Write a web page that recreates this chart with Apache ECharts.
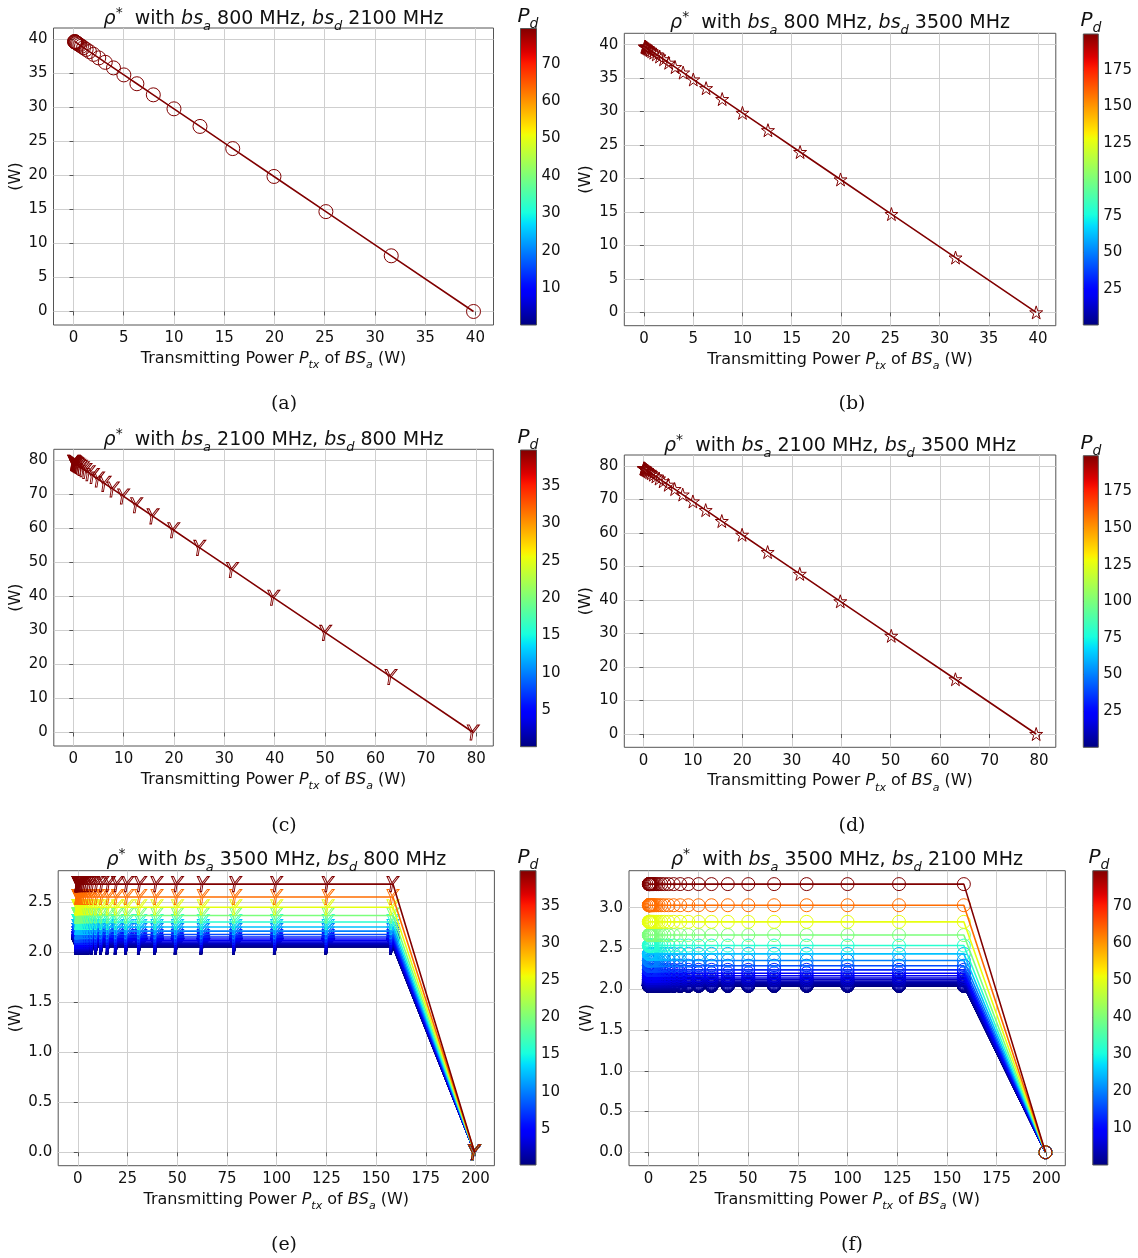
<!DOCTYPE html>
<html>
<head>
<meta charset="utf-8">
<script src="https://cdn.jsdelivr.net/npm/echarts@6/dist/echarts.min.js"></script>
<style>
  html, body { margin: 0; padding: 0; background: #fff; }
  #chart { width: 1138px; height: 1258px; }
</style>
</head>
<body>
<div id="chart"></div>
<script>
// ---- data -----------------------------------------------------------------
// Transmitting power P_tx of BS_a (W), sampled in 1 dB steps
const PTX_40 = [0.1, 0.126, 0.158, 0.2, 0.251, 0.316, 0.398, 0.501, 0.631, 0.794,
  1.0, 1.259, 1.585, 1.995, 2.512, 3.162, 3.981, 5.012, 6.31, 7.943,
  10.0, 12.589, 15.849, 19.953, 25.119, 31.623, 39.811];
const RHO_40 = [39.71, 39.69, 39.65, 39.61, 39.56, 39.5, 39.41, 39.31, 39.18, 39.02,
  38.81, 38.55, 38.23, 37.82, 37.3, 36.65, 35.83, 34.8, 33.5, 31.87,
  29.81, 27.22, 23.96, 19.86, 14.69, 8.19, 0];

const PTX_80 = [0.1, 0.126, 0.158, 0.2, 0.251, 0.316, 0.398, 0.501, 0.631, 0.794,
  1.0, 1.259, 1.585, 1.995, 2.512, 3.162, 3.981, 5.012, 6.31, 7.943,
  10.0, 12.589, 15.849, 19.953, 25.119, 31.623, 39.811, 50.119, 63.096, 79.433];
const RHO_80 = [79.33, 79.31, 79.28, 79.23, 79.18, 79.12, 79.04, 78.93, 78.8, 78.64,
  78.43, 78.17, 77.85, 77.44, 76.92, 76.27, 75.45, 74.42, 73.12, 71.49,
  69.43, 66.84, 63.58, 59.48, 54.31, 47.81, 39.62, 29.31, 16.34, 0];

// 3500 MHz BS_a: flat part of every curve, then the drop to the last sample
const PTX_200 = [0.1, 0.126, 0.158, 0.2, 0.251, 0.316, 0.398, 0.501, 0.631, 0.794,
  1.0, 1.259, 1.585, 1.995, 2.512, 3.162, 3.981, 5.012, 6.31, 7.943,
  10.0, 12.589, 15.849, 19.953, 25.119, 31.623, 39.811, 50.119, 63.096, 79.433,
  100.0, 125.893, 158.489];
const PTX_END = 199.526;
const RHO_END = 0;

// P_d values of the donor BS (colour scale)
const PD_40 = [0.1, 0.126, 0.158, 0.2, 0.251, 0.316, 0.398, 0.501, 0.631, 0.794,
  1.0, 1.259, 1.585, 1.995, 2.512, 3.162, 3.981, 5.012, 6.31, 7.943,
  10.0, 12.589, 15.849, 19.953, 25.119, 31.623, 39.811];
const PD_80 = [0.1, 0.126, 0.158, 0.2, 0.251, 0.316, 0.398, 0.501, 0.631, 0.794,
  1.0, 1.259, 1.585, 1.995, 2.512, 3.162, 3.981, 5.012, 6.31, 7.943,
  10.0, 12.589, 15.849, 19.953, 25.119, 31.623, 39.811, 50.119, 63.096, 79.433];
const PD_200 = [0.1, 0.126, 0.158, 0.2, 0.251, 0.316, 0.398, 0.501, 0.631, 0.794,
  1.0, 1.259, 1.585, 1.995, 2.512, 3.162, 3.981, 5.012, 6.31, 7.943,
  10.0, 12.589, 15.849, 19.953, 25.119, 31.623, 39.811, 50.119, 63.096, 79.433,
  100.0, 125.893, 158.489, 199.526];

// plateau level of rho* for each P_d
const LEVEL_E = [2.057, 2.057, 2.058, 2.058, 2.059, 2.06, 2.061, 2.063, 2.065, 2.068,
  2.071, 2.075, 2.08, 2.087, 2.095, 2.105, 2.118, 2.134, 2.155, 2.18,
  2.213, 2.254, 2.305, 2.37, 2.452, 2.555, 2.684];
const LEVEL_F = [2.042, 2.042, 2.043, 2.043, 2.044, 2.045, 2.046, 2.048, 2.05, 2.052,
  2.056, 2.06, 2.065, 2.071, 2.079, 2.09, 2.102, 2.119, 2.139, 2.165,
  2.197, 2.238, 2.289, 2.353, 2.434, 2.536, 2.665, 2.827, 3.031, 3.29];

// tick labels
const TICKS_40 = [0, 5, 10, 15, 20, 25, 30, 35, 40];
const TICKS_80 = [0, 10, 20, 30, 40, 50, 60, 70, 80];
const TICKS_200 = [0, 25, 50, 75, 100, 125, 150, 175, 200];
const TICKS_Y_E = [0, 0.5, 1.0, 1.5, 2.0, 2.5];
const TICKS_Y_F = [0, 0.5, 1.0, 1.5, 2.0, 2.5, 3.0];
const CB_TICKS_40 = [5, 10, 15, 20, 25, 30, 35];
const CB_TICKS_80 = [10, 20, 30, 40, 50, 60, 70];
const CB_TICKS_200 = [25, 50, 75, 100, 125, 150, 175];

const BANDS = [['800', '2100'], ['800', '3500'], ['2100', '800'], ['2100', '3500'], ['3500', '800'], ['3500', '2100']];
const LETTERS = ['(a)', '(b)', '(c)', '(d)', '(e)', '(f)'];

// ---- styling --------------------------------------------------------------
const FONT = '"DejaVu Sans", "Liberation Sans", sans-serif';
const SERIF = '"DejaVu Serif", "Liberation Serif", serif';
const INK = '#111';
const FRAME = '#555';
const GRIDLINE = '#cfcfcf';
const TICK_FS = 15;
const NAME_FS = 16;
const TITLE_FS = 19;

function interp(t, pts) {
  for (let i = 1; i < pts.length; i++) {
    if (t <= pts[i][0]) {
      const [x0, y0] = pts[i - 1], [x1, y1] = pts[i];
      return y0 + (y1 - y0) * (t - x0) / (x1 - x0);
    }
  }
  return pts[pts.length - 1][1];
}
// matplotlib "jet" colormap
function jet(t) {
  t = Math.max(0, Math.min(1, t));
  const r = interp(t, [[0, 0], [0.35, 0], [0.66, 1], [0.89, 1], [1, 0.5]]);
  const g = interp(t, [[0, 0], [0.125, 0], [0.375, 1], [0.64, 1], [0.91, 0], [1, 0]]);
  const b = interp(t, [[0, 0.5], [0.11, 1], [0.34, 1], [0.65, 0], [1, 0]]);
  return 'rgb(' + Math.round(r * 255) + ',' + Math.round(g * 255) + ',' + Math.round(b * 255) + ')';
}
const JET_STOPS = [];
for (let i = 0; i <= 50; i++) JET_STOPS.push({ offset: i / 50, color: jet(i / 50) });

function starPath() {
  let d = '';
  for (let i = 0; i < 10; i++) {
    const r = i % 2 ? 0.382 : 1;
    const a = -Math.PI / 2 + i * Math.PI / 5;
    d += (i ? 'L' : 'M') + (50 + 50 * r * Math.cos(a)).toFixed(2) + ',' + (50 + 50 * r * Math.sin(a)).toFixed(2);
  }
  return 'path://' + d + 'Z';
}
const MARK_CIRCLE = { symbol: 'circle', size: 14 };
const MARK_CIRCLE_F = { symbol: 'circle', size: 13 };
const MARK_STAR = { symbol: starPath(), size: 13 };
const MARK_Y = { symbol: 'path://M20,0L37,0L61.6,42L103,0L120,0L66,55L57,100L43,100L52,55Z', size: [12, 15] };

function rich(fs) {
  const lh = fs + 8;
  return {
    it: { fontFamily: FONT, fontSize: fs, fontStyle: 'italic', color: INK, lineHeight: lh, verticalAlign: 'middle' },
    sub: { fontFamily: FONT, fontSize: Math.round(fs * 0.7), fontStyle: 'italic', color: INK, lineHeight: lh, verticalAlign: 'bottom' },
    sup: { fontFamily: FONT, fontSize: Math.round(fs * 0.75), color: INK, lineHeight: lh, verticalAlign: 'top' }
  };
}

// ---- layout of the six panels ----------------------------------------------
const LAYOUT = [
  { plot: [53.5, 28, 440, 297], cb: [520.5, 28.5, 16, 296.5], titleX: 273.5, titleY: 6, pdX: 528, pdY: 3, capX: 284, capY: 393, yGap: 30 },
  { plot: [624.3, 33.3, 431.5, 292.4], cb: [1083.3, 34, 15, 291], titleX: 840, titleY: 10, pdX: 1091, pdY: 7, capX: 852, capY: 393, yGap: 30 },
  { plot: [53.8, 449.3, 439.5, 296.7], cb: [520.5, 450, 16, 296.7], titleX: 273.5, titleY: 427, pdX: 528, pdY: 424, capX: 284, capY: 815, yGap: 30 },
  { plot: [624.3, 455, 431.5, 292.3], cb: [1083.3, 455.7, 15, 291.6], titleX: 840, titleY: 433, pdX: 1091, pdY: 430, capX: 852, capY: 815, yGap: 30 },
  { plot: [58.2, 870.7, 436.2, 295], cb: [520, 870.7, 16, 294.3], titleX: 276.3, titleY: 847, pdX: 528, pdY: 844, capX: 284, capY: 1234, yGap: 34 },
  { plot: [629, 870.7, 436.3, 295], cb: [1092.8, 870.7, 15, 294.3], titleX: 847, titleY: 847, pdX: 1099, pdY: 844, capX: 852, capY: 1234, yGap: 34 }
];

// axis ranges include matplotlib's 5 % padding
const PANELS = [
  { x: [-1.99, 41.8], y: [-1.99, 41.7], xt: TICKS_40, yt: TICKS_40, cb: PD_80, cbt: CB_TICKS_80, mark: MARK_CIRCLE, fmt: 0 },
  { x: [-1.99, 41.8], y: [-1.99, 41.7], xt: TICKS_40, yt: TICKS_40, cb: PD_200, cbt: CB_TICKS_200, mark: MARK_STAR, fmt: 0 },
  { x: [-3.87, 83.4], y: [-3.97, 83.3], xt: TICKS_80, yt: TICKS_80, cb: PD_40, cbt: CB_TICKS_40, mark: MARK_Y, fmt: 0 },
  { x: [-3.87, 83.4], y: [-3.97, 83.3], xt: TICKS_80, yt: TICKS_80, cb: PD_200, cbt: CB_TICKS_200, mark: MARK_STAR, fmt: 0 },
  { x: [-9.87, 209.5], y: [-0.134, 2.818], xt: TICKS_200, yt: TICKS_Y_E, cb: PD_40, cbt: CB_TICKS_40, mark: MARK_Y, fmt: 1 },
  { x: [-9.87, 209.5], y: [-0.1645, 3.4545], xt: TICKS_200, yt: TICKS_Y_F, cb: PD_80, cbt: CB_TICKS_80, mark: MARK_CIRCLE_F, fmt: 1 }
];

const grid = [], xAxis = [], yAxis = [], series = [], title = [];

function lineSeries(axisIdx, points, color, mark, z) {
  return {
    type: 'line', xAxisIndex: axisIdx, yAxisIndex: axisIdx, data: points, z: z,
    symbol: mark.symbol, symbolSize: mark.size, showSymbol: true, showAllSymbol: true,
    lineStyle: { color: color, width: 1.6 },
    itemStyle: { color: 'rgba(0,0,0,0)', borderColor: color, borderWidth: 1 },
    emphasis: { disabled: true }, silent: true, animation: false
  };
}

PANELS.forEach((p, k) => {
  const L = LAYOUT[k];
  const pIdx = 2 * k, cIdx = 2 * k + 1;
  grid.push({ left: L.plot[0], top: L.plot[1], width: L.plot[2], height: L.plot[3],
    show: true, borderColor: FRAME, borderWidth: 1, backgroundColor: '#fff' });
  grid.push({ left: L.cb[0], top: L.cb[1], width: L.cb[2], height: L.cb[3] });

  const tickFmt = v => p.fmt ? Number(v).toFixed(1) : String(v);
  xAxis.push({
    type: 'value', gridIndex: pIdx, min: p.x[0], max: p.x[1],
    name: 'Transmitting Power {it|P}{sub|tx} of {it|BS}{sub|a} (W)', nameLocation: 'middle', nameGap: 20,
    nameTextStyle: { fontFamily: FONT, fontSize: NAME_FS, color: INK, lineHeight: NAME_FS + 8, rich: rich(NAME_FS) },
    axisLine: { show: false },
    axisTick: { show: true, length: 4, customValues: p.xt, lineStyle: { color: FRAME } },
    axisLabel: { customValues: p.xt, fontFamily: FONT, fontSize: TICK_FS, color: INK, margin: 6, formatter: v => String(v) },
    splitLine: { show: true, lineStyle: { color: GRIDLINE, width: 1 } }
  });
  yAxis.push({
    type: 'value', gridIndex: pIdx, min: p.y[0], max: p.y[1],
    name: '(W)', nameLocation: 'middle', nameGap: L.yGap, nameRotate: 90,
    nameTextStyle: { fontFamily: FONT, fontSize: NAME_FS, color: INK },
    axisLine: { show: false },
    axisTick: { show: true, length: 4, customValues: p.yt, lineStyle: { color: FRAME } },
    axisLabel: { customValues: p.yt, fontFamily: FONT, fontSize: TICK_FS, color: INK, margin: 6, formatter: tickFmt },
    splitLine: { show: true, lineStyle: { color: GRIDLINE, width: 1 } }
  });

  // colour bar axes
  const cbMin = p.cb[0], cbMax = p.cb[p.cb.length - 1];
  xAxis.push({ type: 'value', gridIndex: cIdx, min: 0, max: 1, show: false });
  yAxis.push({
    type: 'value', gridIndex: cIdx, min: cbMin, max: cbMax, position: 'right',
    axisLine: { show: false },
    axisTick: { show: true, length: 4, customValues: p.cbt, lineStyle: { color: FRAME } },
    axisLabel: { customValues: p.cbt, fontFamily: FONT, fontSize: TICK_FS, color: INK, margin: 5 },
    splitLine: { show: false }
  });
  series.push({
    type: 'custom', xAxisIndex: cIdx, yAxisIndex: cIdx, data: [[0, cbMin, cbMax]],
    encode: { x: 0, y: [1, 2] }, silent: true, animation: false,
    renderItem: (params, api) => {
      const lo = api.coord([0, api.value(1)]);
      const hi = api.coord([1, api.value(2)]);
      return {
        type: 'rect',
        shape: { x: lo[0], y: hi[1], width: hi[0] - lo[0], height: lo[1] - hi[1] },
        style: { fill: new echarts.graphic.LinearGradient(0, 1, 0, 0, JET_STOPS), stroke: FRAME, lineWidth: 1 }
      };
    }
  });

  // titles, colour-bar label and sub-caption
  title.push({
    text: '{it|\u03c1}{sup|*}  with {it|bs}{sub|a} ' + BANDS[k][0] + ' MHz, {it|bs}{sub|d} ' + BANDS[k][1] + ' MHz',
    left: L.titleX, top: L.titleY, textAlign: 'center', padding: 0,
    textStyle: { fontFamily: FONT, fontSize: TITLE_FS, fontWeight: 'normal', color: INK, lineHeight: TITLE_FS + 8, rich: rich(TITLE_FS) }
  });
  title.push({
    text: '{it|P}{sub|d}', left: L.pdX, top: L.pdY, textAlign: 'center', padding: 0,
    textStyle: { fontFamily: FONT, fontSize: 20, fontWeight: 'normal', color: INK, lineHeight: 28, rich: rich(20) }
  });
  title.push({
    text: LETTERS[k], left: L.capX, top: L.capY, textAlign: 'center', padding: 0,
    textStyle: { fontFamily: SERIF, fontSize: 19, fontWeight: 'normal', color: INK, lineHeight: 22 }
  });
});

// (a)-(d): every P_d curve coincides, the highest P_d is drawn last
const TOP = jet(1);
series.push(lineSeries(0, PTX_40.map((x, i) => [x, RHO_40[i]]), TOP, PANELS[0].mark, 3));
series.push(lineSeries(2, PTX_40.map((x, i) => [x, RHO_40[i]]), TOP, PANELS[1].mark, 3));
series.push(lineSeries(4, PTX_80.map((x, i) => [x, RHO_80[i]]), TOP, PANELS[2].mark, 3));
series.push(lineSeries(6, PTX_80.map((x, i) => [x, RHO_80[i]]), TOP, PANELS[3].mark, 3));

// (e), (f): one curve per P_d, coloured on the jet scale
function fan(axisIdx, pd, levels, mark) {
  const lo = pd[0], hi = pd[pd.length - 1];
  pd.forEach((v, i) => {
    const pts = PTX_200.map(x => [x, levels[i]]).concat([[PTX_END, RHO_END]]);
    series.push(lineSeries(axisIdx, pts, jet((v - lo) / (hi - lo)), mark, 3 + i));
  });
}
fan(8, PD_40, LEVEL_E, PANELS[4].mark);
fan(10, PD_80, LEVEL_F, PANELS[5].mark);

const chart = echarts.init(document.getElementById('chart'), null, { renderer: 'canvas' });
chart.setOption({ animation: false, backgroundColor: '#fff', title, grid, xAxis, yAxis, series });
</script>
</body>
</html>
